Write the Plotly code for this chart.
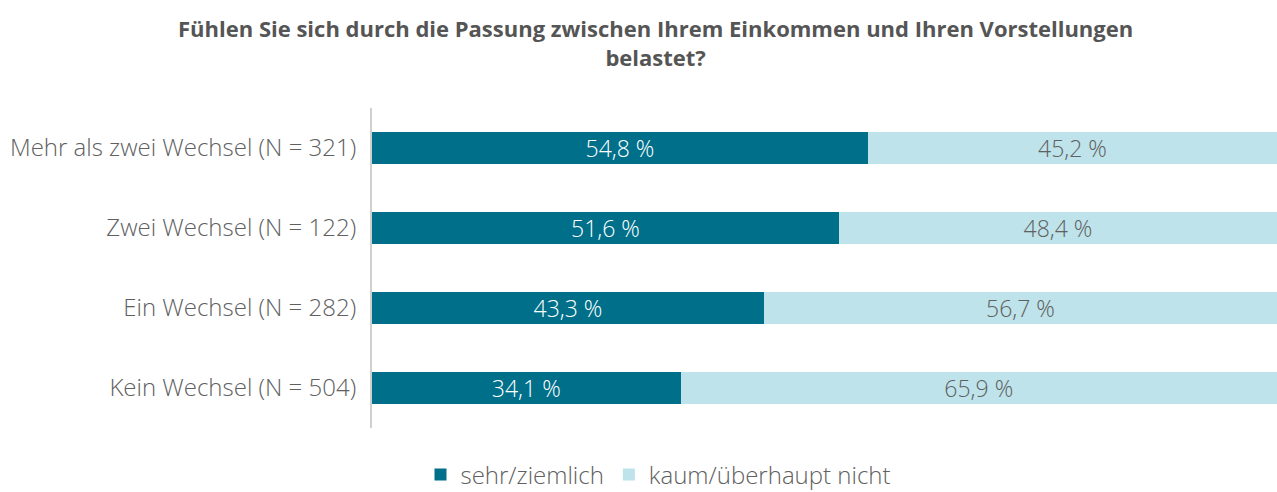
import plotly.graph_objects as go

categories = ["Mehr als zwei Wechsel (N = 321)", "Zwei Wechsel (N = 122)",
              "Ein Wechsel (N = 282)", "Kein Wechsel (N = 504)"]
sehr = [54.8, 51.6, 43.3, 34.1]
kaum = [45.2, 48.4, 56.7, 65.9]
series_names = ["sehr/ziemlich", "kaum/überhaupt nicht"]
title_lines = ["Fühlen Sie sich durch die Passung zwischen Ihrem Einkommen und Ihren Vorstellungen",
               "belastet?"]

def fmt(v):
    return f"{v:.1f}".replace(".", ",") + " %"

font = "Open Sans"
txt = "#606060"
fig = go.Figure()
fig.add_trace(go.Bar(
    y=categories, x=sehr, orientation="h", name=series_names[0],
    marker=dict(color="#006F8A", line=dict(width=0)),
    text=[fmt(v) for v in sehr], textposition="inside", insidetextanchor="middle",
    constraintext="none",
    textfont=dict(color="white", size=23, family=font, weight=300), width=0.4,
))
fig.add_trace(go.Bar(
    y=categories, x=kaum, orientation="h", name=series_names[1],
    marker=dict(color="#BEE3EA", line=dict(width=0)),
    text=[fmt(v) for v in kaum], textposition="inside", insidetextanchor="middle",
    constraintext="none",
    textfont=dict(color=txt, size=23, family=font, weight=300), width=0.4,
))
fig.add_annotation(
    text="<b>" + "<br>".join(title_lines) + "</b>",
    xref="paper", yref="paper", x=(655 - 372) / 905, y=1 + (108 - 74) / 320,
    xanchor="center", yanchor="bottom", showarrow=False, align="center",
    font=dict(size=22, color="#555555", family=font),
)
fig.update_layout(
    barmode="stack",
    width=1277, height=492,
    margin=dict(l=372, r=0, t=108, b=64, pad=0),
    plot_bgcolor="white", paper_bgcolor="white",
    xaxis=dict(range=[0, 100], showgrid=False, showticklabels=False, zeroline=False,
               fixedrange=True, automargin=False),
    yaxis=dict(autorange="reversed", showline=True, linecolor="#D0D0D0", linewidth=2,
               ticks="", ticklabelstandoff=9, automargin=False,
               tickfont=dict(size=24, color=txt, family=font, weight=300)),
    legend=dict(orientation="h", x=658 / 1277, xref="container", xanchor="center",
                y=17 / 492, yref="container", yanchor="middle",
                font=dict(size=24, color=txt, family=font, weight=300),
                itemwidth=30, traceorder="normal"),
    bargap=0.6,
)
fig.write_html("out.html", config={"displayModeBar": False},
               post_script="document.body.style.margin='0';")
